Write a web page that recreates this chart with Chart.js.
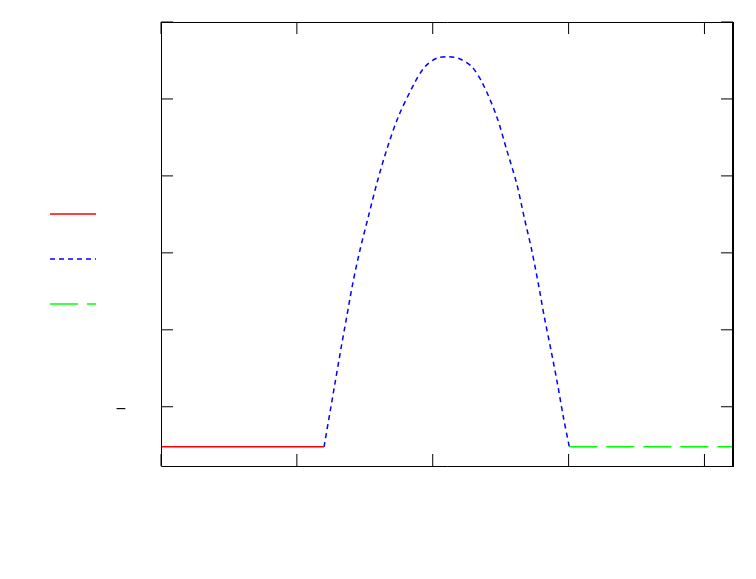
<!DOCTYPE html>
<html>
<head>
<meta charset="utf-8">
<script src="https://cdn.jsdelivr.net/npm/chart.js@4.4.1/dist/chart.umd.min.js"></script>
<style>
  html, body { margin: 0; padding: 0; background: #fff; }
  #wrap { width: 756px; height: 579px; }
</style>
</head>
<body>
<div id="wrap"><canvas id="c" width="756" height="579"></canvas></div>
<script>
// values
const redX = [0, 1.2];
const redY = [-0.52, -0.52];
const blueX = [1.200, 1.281, 1.323, 1.367, 1.411, 1.465, 1.526, 1.588, 1.661, 1.747, 1.864, 1.943, 2.030, 2.115,
               2.200, 2.287, 2.368, 2.471, 2.544, 2.618, 2.672, 2.728, 2.777, 2.821, 2.870, 2.917, 2.961, 3.005];
const blueY = [-0.52, 0.31, 0.74, 1.17, 1.60, 2.04, 2.47, 2.90, 3.34, 3.77, 4.20, 4.42, 4.53, 4.55,
               4.52, 4.42, 4.20, 3.77, 3.34, 2.90, 2.47, 2.04, 1.60, 1.17, 0.74, 0.31, -0.13, -0.52];
const greenX = [3.005, 4.21];
const greenY = [-0.52, -0.52];
const xTicks = [0, 1, 2, 3, 4];
const yTicks = [0, 1, 2, 3, 4, 5];
const xMin = 0, xMax = 4.21;
const yMin = -0.77, yMax = 5;

function toPoints(xs, ys) {
    return xs.map((x, i) => ({ x: x, y: ys[i] }));
}

// gnuplot style frame with inward ticks on all four sides
const framePlugin = {
    id: 'frame',
    afterDatasetsDraw(chart) {
        const { ctx, chartArea: a, scales } = chart;
        const xs = scales.x, ys = scales.y;
        const tl = 12;
        ctx.save();
        ctx.strokeStyle = '#000';
        ctx.lineWidth = 1;
        ctx.setLineDash([]);
        ctx.beginPath();
        ctx.moveTo(a.left + 0.5, a.top + 0.5);
        ctx.lineTo(a.right, a.top + 0.5);
        ctx.moveTo(a.left + 0.5, a.top + 0.5);
        ctx.lineTo(a.left + 0.5, a.bottom + 0.5);
        ctx.lineTo(a.right, a.bottom + 0.5);
        xTicks.forEach(v => {
            const px = xs.getPixelForValue(v);
            ctx.moveTo(px, a.bottom);
            ctx.lineTo(px, a.bottom - tl);
            ctx.moveTo(px, a.top);
            ctx.lineTo(px, a.top + tl);
        });
        yTicks.forEach(v => {
            const py = ys.getPixelForValue(v);
            ctx.moveTo(a.left, py);
            ctx.lineTo(a.left + tl, py);
            ctx.moveTo(a.right, py);
            ctx.lineTo(a.right - tl, py);
        });
        ctx.stroke();
        ctx.lineWidth = 2;
        ctx.beginPath();
        ctx.moveTo(a.right, a.top);
        ctx.lineTo(a.right, a.bottom + 1);
        ctx.stroke();
        ctx.restore();
    }
};

new Chart(document.getElementById('c'), {
    type: 'line',
    data: {
        datasets: [
            { label: '', data: toPoints(redX, redY), borderColor: '#ff0000', borderWidth: 1.5 },
            { label: '', data: toPoints(blueX, blueY), borderColor: '#0000ff', borderWidth: 1.5,
              borderDash: [5, 4], tension: 0.3 },
            { label: '', data: toPoints(greenX, greenY), borderColor: '#00ff00', borderWidth: 1.5,
              borderDash: [28, 9] }
        ]
    },
    options: {
        responsive: false,
        animation: false,
        layout: { padding: { left: 17, top: 22, right: 23, bottom: 83 } },
        elements: { point: { radius: 0 } },
        scales: {
            x: {
                type: 'linear',
                min: xMin,
                max: xMax,
                afterBuildTicks: s => { s.ticks = xTicks.map(v => ({ value: v })); },
                afterFit: s => { s.height = 30; s.paddingLeft = 0; s.paddingRight = 0; },
                grid: { display: false, drawTicks: false },
                border: { display: false },
                ticks: { display: false }
            },
            y: {
                type: 'linear',
                min: yMin,
                max: yMax,
                afterBuildTicks: s => { s.ticks = yTicks.map(v => ({ value: v })); },
                afterFit: s => {
                    s.width = 161 - 17 - s.chart.legend.width;
                    s.paddingTop = 0;
                    s.paddingBottom = 0;
                },
                grid: { display: false, drawTicks: false },
                border: { display: false },
                ticks: {
                    padding: 34,
                    labelOffset: 3,
                    color: '#000',
                    font: { family: 'DejaVu Sans', size: 14 },
                    callback: v => (v === 0 ? '\u2212' : '')
                }
            }
        },
        plugins: {
            legend: {
                position: 'left',
                labels: {
                    usePointStyle: true,
                    pointStyle: 'line',
                    pointStyleWidth: 46,
                    padding: 33,
                    font: { size: 12 },
                    generateLabels: chart => {
                        const items = Chart.defaults.plugins.legend.labels.generateLabels(chart);
                        items.forEach(it => {
                            const ds = chart.data.datasets[it.datasetIndex];
                            it.lineDash = ds.borderDash || [];
                            it.strokeStyle = ds.borderColor;
                            it.lineWidth = ds.borderWidth;
                        });
                        return items;
                    }
                }
            },
            tooltip: { enabled: false }
        }
    },
    plugins: [framePlugin]
});
</script>
</body>
</html>
